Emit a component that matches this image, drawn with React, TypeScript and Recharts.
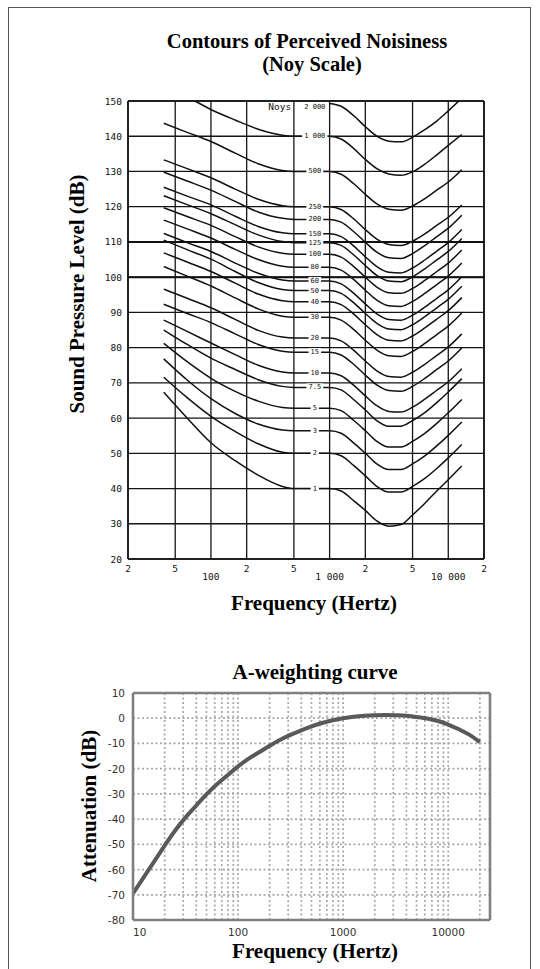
import React from 'react'
import {
  LineChart,
  Line,
  XAxis,
  YAxis,
  CartesianGrid,
  ReferenceLine,
  ReferenceDot,
} from 'recharts'

// ---- Contours of perceived noisiness (levels) ----
const NOY_FREQS = [40, 63, 100, 160, 250, 400, 500, 1000, 1250, 1600, 2000, 2500, 3150, 4000, 5000, 6300, 8000, 10000, 13000]

const noy2000 = [null, null, null, null, null, null, null, 149.3, 148.5, 145.8, 142.7, 140, 138.6, 138.4, 139.7, 141.8, 144.3, 147.2, 150.8]
const noy1000 = [154.5, 151.2, 147.6, 144.6, 142, 140.3, 140, 140, 139.2, 136.5, 133.4, 130.8, 129.3, 128.9, 129.9, 132, 134.7, 137.4, 140.5]
const noy500 = [143.7, 141.1, 138.5, 135.2, 132.2, 130.3, 130, 130, 129.2, 126.5, 123.5, 120.8, 119.3, 119, 120.2, 122.2, 124.7, 127, 130.5]
const noy250 = [133.3, 130.8, 128.2, 125, 122.1, 120.3, 120, 120, 119.2, 116.5, 113.5, 110.8, 109.3, 109, 110.2, 112.2, 114.7, 117, 120.5]
const noy200 = [129.8, 127.3, 124.7, 121.5, 118.5, 116.7, 116.4, 116.4, 115.6, 112.9, 109.9, 107.1, 105.5, 105.3, 106.7, 108.9, 111.5, 113.9, 117.6]
const noy150 = [125.5, 123, 120.5, 117.3, 114.4, 112.6, 112.3, 112.3, 111.5, 108.8, 105.8, 103, 101.4, 101.2, 102.6, 104.8, 107.4, 109.8, 113.5]
const noy125 = [123.1, 120.6, 118, 114.9, 112, 110.1, 109.8, 109.8, 109, 106.3, 103.3, 100.5, 98.9, 98.7, 100.1, 102.3, 104.9, 107.3, 111]
const noy100 = [119.7, 117.2, 114.7, 111.5, 108.6, 106.8, 106.5, 106.5, 105.7, 103, 100, 97.2, 95.6, 95.4, 96.8, 99, 101.6, 104, 107.7]
const noy80 = [116.2, 113.7, 111.1, 107.9, 105, 103.1, 102.8, 102.8, 102, 99.3, 96.3, 93.5, 91.9, 91.7, 93.1, 95.3, 97.9, 100.3, 104]
const noy60 = [112.4, 109.8, 107.3, 104, 101.1, 99.2, 98.9, 98.9, 98.1, 95.4, 92.4, 89.6, 88, 87.8, 89.2, 91.4, 94, 96.4, 100.1]
const noy50 = [110.5, 107.8, 105.1, 101.6, 98.5, 96.5, 96.2, 96.2, 95.4, 92.7, 89.7, 86.9, 85.3, 85.1, 86.5, 88.7, 91.3, 93.7, 97.4]
const noy40 = [106.9, 104.3, 101.6, 98.3, 95.2, 93.3, 93, 93, 92.2, 89.5, 86.5, 83.7, 82.1, 81.9, 83.3, 85.5, 88.1, 90.5, 94.2]
const noy30 = [103, 100.3, 97.5, 94.1, 91, 88.9, 88.6, 88.6, 87.8, 85.1, 82.1, 79.3, 77.7, 77.5, 78.9, 81.1, 83.7, 86.1, 89.8]
const noy20 = [96.6, 94, 91.3, 88, 84.9, 83, 82.7, 82.7, 81.9, 79.2, 76.2, 73.4, 71.8, 71.6, 73, 75.2, 77.8, 80.2, 83.9]
const noy15 = [92.3, 89.7, 87.1, 83.9, 80.9, 79, 78.7, 78.7, 77.9, 75.2, 72.2, 69.4, 67.8, 67.6, 69, 71.2, 73.8, 76.2, 79.9]
const noy10 = [87.8, 84.6, 81.3, 78, 75, 73.1, 72.8, 72.8, 72, 69.3, 66.3, 63.5, 61.9, 61.7, 63.1, 65.3, 67.9, 70.3, 74]
const noy7_5 = [85, 80.9, 77, 73.8, 70.9, 69, 68.7, 68.7, 68, 65.2, 62.3, 59.3, 57.7, 57.7, 59.3, 61.5, 64.4, 67.4, 71.2]
const noy5 = [81.2, 76, 71.3, 67.6, 64.8, 63, 62.8, 62.8, 62.1, 59.3, 56.4, 53.4, 51.8, 51.8, 53.4, 55.6, 58.5, 61.5, 65.3]
const noy3 = [76.8, 70.8, 65.5, 61.3, 58.3, 56.6, 56.4, 56.4, 55.7, 52.9, 50, 47, 45.4, 45.4, 47, 49.2, 52.1, 55.1, 58.9]
const noy2 = [71.6, 65.8, 60.5, 56.2, 52.7, 50.3, 50, 50, 49.3, 46.5, 43.6, 40.6, 39, 39, 40.6, 42.8, 45.7, 48.7, 52.5]
const noy1 = [67.3, 60, 53, 47.9, 43.8, 40.6, 40, 40, 39.3, 36.5, 33.8, 30.8, 29.3, 29.8, 32.5, 35.7, 39.3, 42.5, 46.4]

const NOY_LABELS = ['2 000', '1 000', '500', '250', '200', '150', '125', '100', '80', '60', '50', '40', '30', '20', '15', '10', '7.5', '5', '3', '2', '1']
const NOY_LABEL_DB = [148.4, 140, 130, 120, 116.4, 112.3, 109.8, 106.5, 102.8, 98.9, 96.2, 93, 88.6, 82.7, 78.7, 72.8, 68.7, 62.8, 56.4, 50, 40]

const NOY_X_TICKS = [20, 50, 100, 200, 500, 1000, 2000, 5000, 10000, 20000]
const NOY_X_LABELS = ['2', '5', '100', '2', '5', '1 000', '2', '5', '10 000', '2']
const NOY_Y_TICKS = [20, 30, 40, 50, 60, 70, 80, 90, 100, 110, 120, 130, 140, 150]

// ---- A-weighting curve ----
const AW_FREQS = [10, 12.5, 16, 20, 25, 31.5, 40, 50, 63, 80, 100, 125, 160, 200, 250, 315, 400, 500, 630, 800, 1000, 1250, 1600, 2000, 2500, 3150, 4000, 5000, 6300, 8000, 10000, 12500, 16000, 20000]
const AW_DB = [-69.5, -63.4, -56.7, -50.5, -44.7, -39.4, -34.6, -30.2, -26.2, -22.5, -19.1, -16.1, -13.4, -10.9, -8.6, -6.6, -4.8, -3.2, -1.9, -0.8, 0, 0.6, 1, 1.2, 1.3, 1.2, 1, 0.5, -0.1, -1.1, -2.5, -4.3, -6.6, -9.5]
const AW_X_TICKS = [10, 100, 1000, 10000]
const AW_Y_TICKS = [10, 0, -10, -20, -30, -40, -50, -60, -70, -80]
const AW_GRID_FREQS = [20, 30, 40, 50, 60, 70, 80, 90, 100, 200, 300, 400, 500, 600, 700, 800, 900, 1000, 2000, 3000, 4000, 5000, 6000, 7000, 8000, 9000, 10000, 20000]
const AW_GRID_DB = [0, -10, -20, -30, -40, -50, -60, -70]

const SERIF = '"Liberation Serif", "Times New Roman", serif'
const MONO = '"DejaVu Sans Mono", monospace'
const SANS = '"DejaVu Sans", Verdana, sans-serif'

const NOY_CURVES = [noy2000, noy1000, noy500, noy250, noy200, noy150, noy125, noy100, noy80, noy60, noy50, noy40, noy30, noy20, noy15, noy10, noy7_5, noy5, noy3, noy2, noy1]

const noySeries = NOY_CURVES.map((levels) =>
  NOY_FREQS.map((f, i) => ({ f, db: levels[i] })).filter((p) => p.db != null)
)
const awData = AW_FREQS.map((f, i) => ({ f, db: AW_DB[i] }))

function NoyXTick({ x, y, payload }: any) {
  const label = NOY_X_LABELS[NOY_X_TICKS.indexOf(payload.value)] ?? ''
  const decade = label.length > 1
  return (
    <text x={x} y={y + (decade ? 17 : 9)} textAnchor="middle" dominantBaseline="central" fontFamily={MONO} fontSize={9.5} fill="#111">
      {label}
    </text>
  )
}

function NoyYTick({ x, y, payload }: any) {
  return (
    <text x={x - 6} y={y} textAnchor="end" dominantBaseline="central" fontFamily={MONO} fontSize={9.5} fill="#111">
      {payload.value}
    </text>
  )
}

function NoyLabel({ cx, cy, text, size = 7, box = true }: any) {
  if (cx == null || cy == null) return null
  const w = text.length * size * 0.61 + 4
  return (
    <g>
      {box && <rect x={cx - w / 2} y={cy - 4} width={w} height={8} fill="#fff" />}
      <text x={cx} y={cy} textAnchor="middle" dominantBaseline="central" fontFamily={MONO} fontSize={size} fill="#111">
        {text}
      </text>
    </g>
  )
}

function AwXTick({ x, y, payload, index }: any) {
  return (
    <text x={x} y={y + 12} textAnchor={index === 0 ? 'start' : 'middle'} dominantBaseline="central" fontFamily={SANS} fontSize={10.5} fill="#333">
      {payload.value}
    </text>
  )
}

function AwYTick({ x, y, payload }: any) {
  return (
    <text x={x - 8} y={y} textAnchor="end" dominantBaseline="central" fontFamily={SANS} fontSize={10.5} fill="#333">
      {payload.value}
    </text>
  )
}

export default function App() {
  return (
    <div style={{ position: 'absolute', left: 0, top: 0, width: 540, height: 969, background: '#fff', overflow: 'hidden' }}>
      <div style={{ position: 'absolute', left: 0, top: 0 }}>
        <LineChart width={540} height={600} margin={{ top: 101, right: 56, bottom: 0, left: 0 }}>
          <CartesianGrid stroke="#151515" strokeWidth={1.3} />
          <XAxis
            dataKey="f"
            type="number"
            scale="log"
            domain={[20, 20000]}
            ticks={NOY_X_TICKS}
            interval={0}
            allowDataOverflow
            axisLine={false}
            tickLine={false}
            tickSize={0}
            tickMargin={0}
            height={41}
            tick={<NoyXTick />}
          />
          <YAxis
            type="number"
            domain={[20, 150]}
            ticks={NOY_Y_TICKS}
            interval={0}
            allowDataOverflow
            axisLine={false}
            tickLine={false}
            tickSize={0}
            tickMargin={0}
            width={128}
            tick={<NoyYTick />}
          />
          <ReferenceLine y={100} stroke="#111" strokeWidth={2} />
          <ReferenceLine y={110} stroke="#111" strokeWidth={2} />
          <ReferenceLine x={20} stroke="#111" strokeWidth={1.6} />
          <ReferenceLine x={20000} stroke="#111" strokeWidth={1.6} />
          <ReferenceLine y={20} stroke="#111" strokeWidth={1.6} />
          <ReferenceLine y={150} stroke="#111" strokeWidth={1.6} />
          {noySeries.map((data, i) => (
            <Line
              key={NOY_LABELS[i]}
              data={data}
              dataKey="db"
              type="monotone"
              stroke="#111"
              strokeWidth={1.5}
              dot={false}
              activeDot={false}
              isAnimationActive={false}
            />
          ))}
          {NOY_LABELS.map((text, i) => (
            <ReferenceDot
              key={'lbl' + text}
              x={750}
              y={NOY_LABEL_DB[i]}
              r={0}
              ifOverflow="visible"
              shape={(p: any) => <NoyLabel cx={p.cx} cy={p.cy} text={text} />}
            />
          ))}
          <ReferenceDot
            x={380}
            y={148.4}
            r={0}
            ifOverflow="visible"
            shape={(p: any) => <NoyLabel cx={p.cx} cy={p.cy} text="Noys" size={9.5} box={false} />}
          />
        </LineChart>
      </div>

      <div style={{ position: 'absolute', left: 0, top: 640 }}>
        <LineChart width={540} height={330} margin={{ top: 53, right: 50, bottom: 0, left: 0 }}>
          {AW_GRID_FREQS.map((f) => (
            <ReferenceLine key={'v' + f} x={f} stroke="#a8a8a8" strokeWidth={1.7} strokeDasharray="2 2.5" />
          ))}
          {AW_GRID_DB.map((d) => (
            <ReferenceLine key={'h' + d} y={d} stroke="#a8a8a8" strokeWidth={1.7} strokeDasharray="2 2.5" />
          ))}
          <XAxis
            dataKey="f"
            type="number"
            scale="log"
            domain={[10, 25000]}
            ticks={AW_X_TICKS}
            interval={0}
            allowDataOverflow
            axisLine={false}
            tickLine={false}
            tickSize={0}
            tickMargin={0}
            height={50}
            tick={<AwXTick />}
          />
          <YAxis
            type="number"
            domain={[-80, 10]}
            ticks={AW_Y_TICKS}
            interval={0}
            allowDataOverflow
            axisLine={false}
            tickLine={false}
            tickSize={0}
            tickMargin={0}
            width={133}
            tick={<AwYTick />}
          />
          <Line
            data={awData}
            dataKey="db"
            type="monotone"
            stroke="#595959"
            strokeWidth={4}
            dot={false}
            activeDot={false}
            isAnimationActive={false}
          />
          <ReferenceLine x={10} stroke="#808080" strokeWidth={2.6} />
          <ReferenceLine x={25000} stroke="#808080" strokeWidth={2.6} />
          <ReferenceLine y={10} stroke="#808080" strokeWidth={2.6} />
          <ReferenceLine y={-80} stroke="#808080" strokeWidth={2.6} />
        </LineChart>
      </div>

      <svg width={540} height={969} style={{ position: 'absolute', left: 0, top: 0, pointerEvents: 'none' }}>
        <rect x={8.5} y={7.5} width={522} height={1000} fill="none" stroke="#555" strokeWidth={1} />
        <g fontFamily={SERIF} fontWeight="bold" fontSize={21} fill="#000" textAnchor="middle">
          <text x={307} y={48} fontSize={20.5}>Contours of Perceived Noisiness</text>
          <text x={312} y={71} fontSize={20.5}>(Noy Scale)</text>
          <text x={314} y={610}>Frequency (Hertz)</text>
          <text transform="translate(84,294) rotate(-90)">Sound Pressure Level (dB)</text>
          <text x={315} y={679}>A-weighting curve</text>
          <text transform="translate(96,806) rotate(-90)">Attenuation (dB)</text>
          <text x={315} y={958}>Frequency (Hertz)</text>
        </g>
      </svg>
    </div>
  )
}
